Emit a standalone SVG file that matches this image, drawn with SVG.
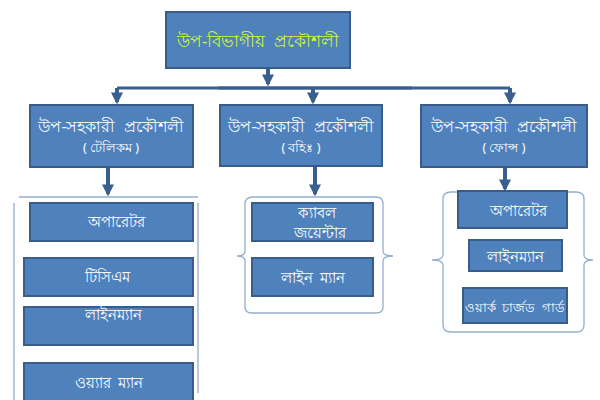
<svg xmlns="http://www.w3.org/2000/svg" width="600" height="400" viewBox="0 0 600 400">
<defs>
<style>
.box{fill:#4F81BD;stroke:#385D8A;stroke-width:2}
.t{font-family:"Noto Sans","DejaVu Sans",sans-serif;fill:#FFFFFF;text-anchor:middle;dominant-baseline:central;white-space:pre}
.top{fill:#D4F53A;font-size:16.5px}
.l2{font-size:15.5px}
.sub{font-size:12.5px}
.l3{font-size:15px}
.arr{stroke:#3A5E8E;stroke-width:4;fill:none}
.bar{stroke:#3A5E8E;stroke-width:3;fill:none}
.brk{stroke:#95AECB;stroke-width:1.3;fill:none}
</style>
<marker id="ad" viewBox="0 0 10 10" refX="8" refY="5" markerWidth="3" markerHeight="3" orient="auto" markerUnits="strokeWidth">
<path d="M0,0 L10,5 L0,10 Z" fill="#3A5E8E"/>
</marker>
</defs>
<rect width="600" height="400" fill="#FFFFFF"/>

<g id="connectors">
<line class="arr" x1="268" y1="68" x2="268" y2="84" stroke-width="5" marker-end="url(#ad)"/>
<line class="bar" x1="117" y1="88" x2="510" y2="88"/>
<line class="bar" x1="218" y1="88" x2="412" y2="88" stroke-width="4"/>
<line class="arr" x1="117" y1="88" x2="117" y2="102" stroke-width="3" marker-end="url(#ad)"/>
<line class="arr" x1="313" y1="88" x2="313" y2="102" stroke-width="3" marker-end="url(#ad)"/>
<line class="arr" x1="510" y1="88" x2="510" y2="102" stroke-width="3" marker-end="url(#ad)"/>
<line class="arr" x1="108" y1="167" x2="108" y2="194" stroke-width="3" marker-end="url(#ad)"/>
<line class="arr" x1="315" y1="166" x2="315" y2="194" stroke-width="3" marker-end="url(#ad)"/>
<line class="arr" x1="505" y1="167" x2="505" y2="189" stroke-width="3" marker-end="url(#ad)"/>
<line class="brk" x1="19" y1="197" x2="198" y2="197"/>
<line class="brk" x1="14" y1="203" x2="14" y2="400"/>
<line class="brk" x1="198" y1="203" x2="198" y2="393"/>
<path class="brk" d="M253,197 Q245,197 245,204 L245,251 Q245,256 237,256 Q245,256 245,261 L245,307 Q245,313 252,313 L376,313 Q383,313 383,307 L383,261 Q383,256 393,256 Q383,256 383,251 L383,204 Q383,197 376,197 Z"/>
<path class="brk" d="M451,192 Q443,192 443,199 L443,255 Q443,260 432,260 Q443,260 443,265 L443,325 Q443,332 451,332 L576,332 Q584,332 584,325 L584,265 Q584,260 593,260 Q584,260 584,255 L584,199 Q584,192 576,192 Z"/>
</g>

<g id="n-top">
<rect class="box" x="166" y="12" width="184" height="56"/>
<text class="t top" x="258" y="40" xml:space="preserve">উপ-বিভাগীয়  প্রকৌশলী</text>
</g>

<g id="n-telecom">
<rect class="box" x="30" y="105" width="163" height="62"/>
<text class="t l2" x="111" y="126" xml:space="preserve">উপ-সহকারী  প্রকৌশলী</text>
<text class="t sub" x="111" y="147" xml:space="preserve">( টেলিকম )</text>
</g>
<g id="n-external">
<rect class="box" x="220" y="105" width="162" height="61"/>
<text class="t l2" x="301" y="126" xml:space="preserve">উপ-সহকারী  প্রকৌশলী</text>
<text class="t sub" x="301" y="147" xml:space="preserve">( বহিঃ )</text>
</g>
<g id="n-phones">
<rect class="box" x="421" y="105" width="166" height="62"/>
<text class="t l2" x="504" y="126" xml:space="preserve">উপ-সহকারী  প্রকৌশলী</text>
<text class="t sub" x="504" y="147" xml:space="preserve">( ফোন্স )</text>
</g>

<g id="n-operator1">
<rect class="box" x="30" y="203" width="163" height="38"/>
<text class="t l3" x="116" y="221">অপারেটর</text>
</g>
<g id="n-tcm">
<rect class="box" x="24" y="258" width="169" height="38"/>
<text class="t l3" x="107" y="276">টিসিএম</text>
</g>
<g id="n-lineman1">
<rect class="box" x="24" y="307" width="169" height="38"/>
<text class="t l3" x="113" y="314">লাইনম্যান</text>
</g>
<g id="n-wireman">
<rect class="box" x="24" y="363" width="169" height="40"/>
<text class="t l3" x="109" y="382" xml:space="preserve">ওয়্যার  ম্যান</text>
</g>

<g id="n-cable">
<rect class="box" x="252" y="203" width="121" height="38"/>
<text class="t l3" x="317" y="212">ক্যাবল</text>
<text class="t l3" x="320" y="232">জয়েন্টার</text>
</g>
<g id="n-lineman2">
<rect class="box" x="252" y="258" width="121" height="38"/>
<text class="t l3" x="313" y="277" xml:space="preserve">লাইন  ম্যান</text>
</g>

<g id="n-operator2">
<rect class="box" x="458" y="191" width="109" height="37"/>
<text class="t l3" x="518" y="210">অপারেটর</text>
</g>
<g id="n-lineman3">
<rect class="box" x="469" y="240" width="93" height="31"/>
<text class="t l3" x="515" y="256">লাইনম্যান</text>
</g>
<g id="n-wcg">
<rect class="box" x="463" y="288" width="104" height="35"/>
<text class="t" x="515" y="307" font-size="13" xml:space="preserve">ওয়ার্ক  চার্জড  গার্ড</text>
</g>
</svg>
